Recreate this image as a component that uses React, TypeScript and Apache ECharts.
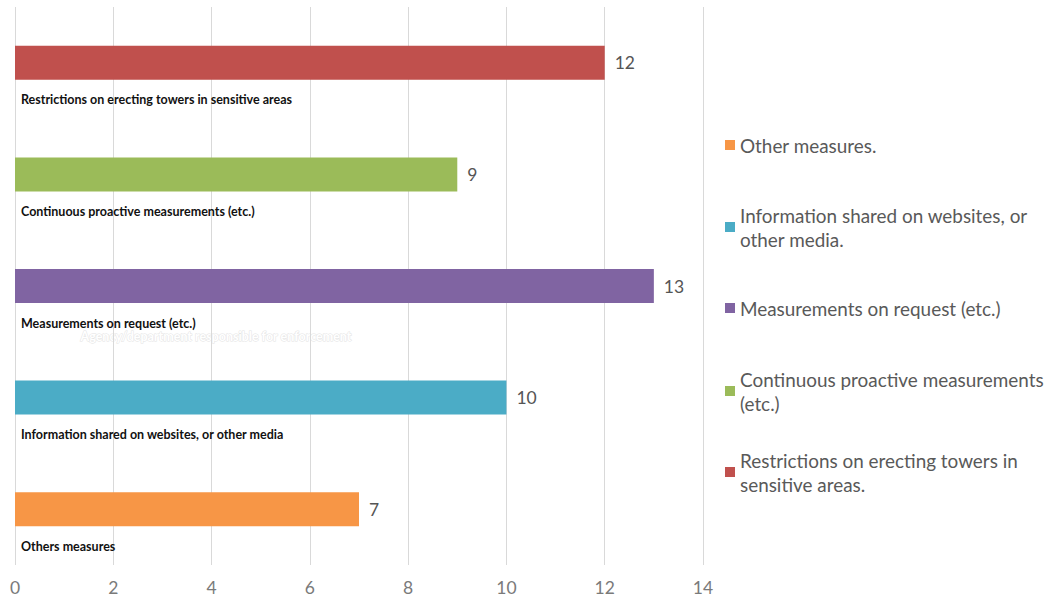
import React, { useEffect, useRef } from "react";
import * as echarts from "echarts";

// Categories listed bottom -> top (as drawn on the category axis)
const categories = [
  "Others measures",
  "Information shared on websites, or other media",
  "Measurements on request (etc.)",
  "Continuous proactive measurements (etc.)",
  "Restrictions on erecting towers in sensitive areas",
];
const values = [7, 10, 13, 9, 12];
const seriesNames = [
  "Other measures.",
  "Information shared on websites, or\nother media.",
  "Measurements on request (etc.)",
  "Continuous proactive measurements\n(etc.)",
  "Restrictions on erecting towers in\nsensitive areas.",
];
const colors = ["#F79646", "#4BACC6", "#8064A2", "#9BBB59", "#C0504D"];
const xTicks = [0, 2, 4, 6, 8, 10, 12, 14];
const legendLineCenters = [145, 227, 308, 391, 472];
const watermark = "Agency/department responsible for enforcement";

const FONT = "Lato, 'Open Sans', sans-serif";

export default function App() {
  const ref = useRef<HTMLDivElement>(null);
  useEffect(() => {
    document.body.style.margin = "0";
    const chart = echarts.init(ref.current!, null, { renderer: "svg" });
    const series = seriesNames.map((name, i) => ({
      name,
      type: "bar",
      barWidth: 34,
      barGap: "-100%",
      itemStyle: { color: colors[i] },
      label: {
        show: true,
        position: "right",
        distance: 10,
        fontFamily: FONT,
        fontSize: 17.5,
        color: "#555555",
      },
      data: categories.map((_, j) => (j === i ? values[j] : "-")),
    }));
    const legends = seriesNames.map((name, i) => {
      const twoLine = name.includes("\n");
      return {
        data: [name],
        orient: "vertical",
        left: 725,
        top: legendLineCenters[i] - (twoLine ? 36 : 12),
        padding: 0,
        icon: "rect",
        itemWidth: 10,
        itemHeight: 10,
        selectedMode: false,
        textStyle: {
          fontFamily: FONT,
          fontSize: 18.9,
          color: "#595959",
          lineHeight: 24,
          padding: twoLine ? [24, 0, 0, 0] : 0,
        },
      };
    });
    chart.setOption({
      animation: false,
      backgroundColor: "#ffffff",
      grid: { left: 15, right: 348, top: 7, bottom: 36, containLabel: false },
      xAxis: {
        type: "value",
        min: xTicks[0],
        max: xTicks[xTicks.length - 1],
        interval: 2,
        axisLine: { show: false },
        axisTick: { show: false },
        splitLine: { show: true, lineStyle: { color: "#d9d9d9", width: 1 } },
        axisLabel: { fontFamily: FONT, fontSize: 17.5, color: "#7a7a7a", margin: 13 },
      },
      yAxis: {
        type: "category",
        data: categories,
        axisLine: { show: false },
        axisTick: { show: false },
        splitLine: { show: false },
        axisLabel: {
          inside: true,
          margin: 6,
          verticalAlign: "middle",
          formatter: (v: string) => `{pad| }\n{t|${v}}`,
          rich: {
            pad: { height: 74, fontSize: 1, lineHeight: 74 },
            t: {
              fontFamily: FONT,
              fontWeight: "bold",
              fontSize: 12.5,
              lineHeight: 14,
              color: "#111111",
            },
          },
        },
        z: 5,
      },
      legend: legends,
      graphic: [
        {
          type: "text",
          left: 80,
          top: 329,
          silent: true,
          style: {
            text: watermark,
            font: "bold 12.5px Lato, sans-serif",
            fill: "#ffffff",
            stroke: "#e4e4e4",
            lineWidth: 1,
          },
        },
      ],
      series,
    });
    return () => chart.dispose();
  }, []);
  return <div ref={ref} style={{ width: 1051, height: 601 }} />;
}
